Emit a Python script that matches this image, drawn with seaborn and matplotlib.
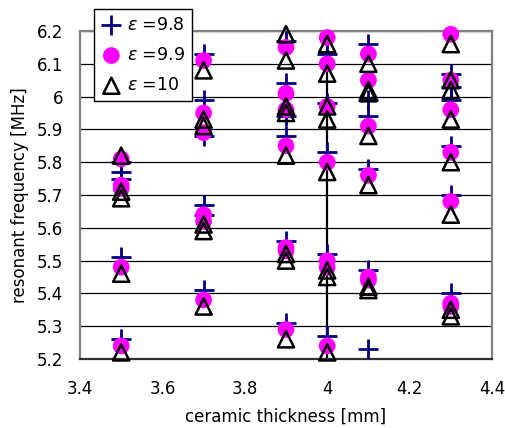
import matplotlib
matplotlib.use("Agg")
import matplotlib.pyplot as plt
import seaborn as sns
import numpy as np
import pandas as pd

# thickness [mm] and resonant frequency [MHz], one list pair per series
eps98_x = [3.5]*5 + [3.7]*6 + [3.9]*6 + [4.0]*5 + [4.1]*6 + [4.3]*6
eps98_y = [5.80, 5.77, 5.75, 5.51, 5.26,
           6.13, 5.99, 5.88, 5.67, 5.64, 5.41,
           6.17, 6.04, 5.94, 5.88, 5.56, 5.31,
           6.13, 5.98, 5.83, 5.52, 5.27,
           6.16, 5.99, 5.94, 5.78, 5.47, 5.23,
           6.07, 6.03, 5.99, 5.85, 5.70, 5.40]

eps99_x = [3.5]*5 + [3.7]*6 + [3.9]*7 + [4.0]*7 + [4.1]*6 + [4.3]*7
eps99_y = [5.81, 5.73, 5.72, 5.48, 5.24,
           6.11, 5.95, 5.89, 5.64, 5.62, 5.38,
           6.15, 6.01, 5.96, 5.85, 5.54, 5.53, 5.29,
           6.18, 6.10, 5.97, 5.80, 5.50, 5.48, 5.24,
           6.13, 6.05, 5.91, 5.76, 5.45, 5.44,
           6.19, 6.05, 5.96, 5.83, 5.68, 5.37, 5.36]

eps10_x = [3.5]*5 + [3.7]*6 + [3.9]*8 + [4.0]*8 + [4.1]*7 + [4.3]*8
eps10_y = [5.82, 5.71, 5.69, 5.46, 5.22,
           6.08, 5.93, 5.91, 5.61, 5.59, 5.36,
           6.19, 6.11, 5.97, 5.95, 5.82, 5.52, 5.50, 5.26,
           6.16, 6.07, 5.97, 5.93, 5.77, 5.47, 5.45, 5.22,
           6.10, 6.02, 6.01, 5.88, 5.73, 5.42, 5.41,
           6.16, 6.05, 6.02, 5.93, 5.80, 5.64, 5.35, 5.33]

labels = [r"$\varepsilon$ =9.8", r"$\varepsilon$ =9.9", r"$\varepsilon$ =10"]

sns.set_style("white")
plt.rcParams['font.family'] = ['DejaVu Sans']
plt.rcParams['text.color'] = 'black'
plt.rcParams['axes.labelcolor'] = 'black'
plt.rcParams['xtick.color'] = 'black'
plt.rcParams['ytick.color'] = 'black'

fig = plt.figure(figsize=(5.05, 4.28), dpi=100)
ax = fig.add_axes([80/505, 69/428, 412/505, 328/428])

d98 = pd.DataFrame({"x": eps98_x, "y": eps98_y})
d99 = pd.DataFrame({"x": eps99_x, "y": eps99_y})
d10 = pd.DataFrame({"x": eps10_x, "y": eps10_y})

sns.scatterplot(data=d98, x="x", y="y", marker="+", s=210, color="#000080",
                linewidth=2, label=labels[0], ax=ax, legend=False, zorder=3,
                clip_on=False)
sns.scatterplot(data=d99, x="x", y="y", marker="o", s=145, color="#FF00FF",
                edgecolor="none", label=labels[1], ax=ax, legend=False, zorder=4,
                clip_on=False)
sns.scatterplot(data=d10, x="x", y="y", marker="^", s=135, facecolor="none",
                edgecolor="black", linewidth=1.8, label=labels[2], ax=ax,
                legend=False, zorder=5, clip_on=False)

ax.axvline(4.0, color="black", lw=1.6, zorder=2)

ax.set_xlim(3.4, 4.4)
ax.set_ylim(5.2, 6.2)
ax.set_xticks(np.arange(3.4, 4.41, 0.2))
ax.set_xticklabels(["3.4", "3.6", "3.8", "4", "4.2", "4.4"])
ax.set_yticks(np.arange(5.2, 6.21, 0.1))
ax.set_yticklabels(["5.2", "5.3", "5.4", "5.5", "5.6", "5.7", "5.8", "5.9", "6", "6.1", "6.2"])
ax.yaxis.grid(True, color="black", lw=0.9)
ax.xaxis.grid(False)
ax.tick_params(axis="x", direction="in", length=5, width=1, pad=15, labelsize=12)
ax.tick_params(axis="y", length=0, pad=12, labelsize=12)

for side in ["left", "top", "right"]:
    ax.spines[side].set_color("#808080")
    ax.spines[side].set_linewidth(1.6)
ax.spines["bottom"].set_color("#303030")
ax.spines["bottom"].set_linewidth(1.6)

ax.set_xlabel("ceramic thickness [mm]", fontsize=12)
ax.set_ylabel("resonant frequency [MHz]", fontsize=12)
ax.xaxis.set_label_coords(0.5, -0.148)
ax.yaxis.set_label_coords(-0.124, 0.5)

handles, labs = ax.get_legend_handles_labels()
leg = fig.legend(handles, labs, loc="upper left", bbox_to_anchor=(94/505, 1 - 9/428),
                 borderaxespad=0, frameon=True, fancybox=False, fontsize=12.5,
                 handletextpad=0.3, labelspacing=0.7, borderpad=0.4,
                 handlelength=1.2)
leg.get_frame().set_edgecolor("black")
leg.get_frame().set_linewidth(1)
leg.get_frame().set_alpha(1)
leg.set_zorder(10)

fig.savefig("out.png", dpi=100)
